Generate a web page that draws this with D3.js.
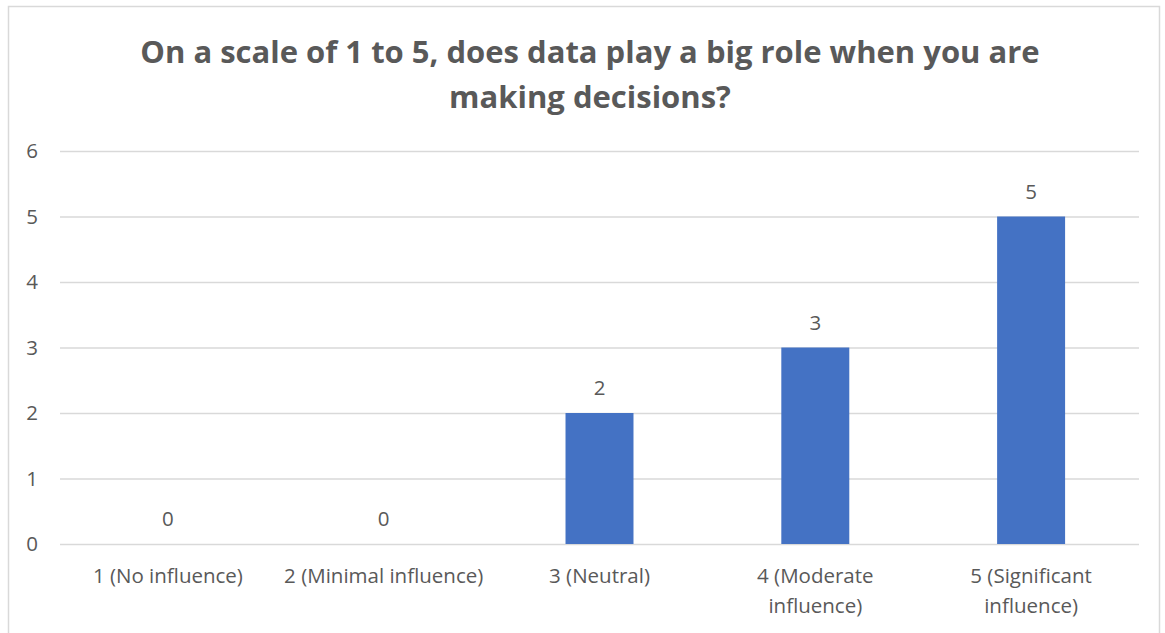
<!DOCTYPE html>
<html>
<head>
<meta charset="utf-8">
<script src="https://cdn.jsdelivr.net/npm/d3@7/dist/d3.min.js"></script>
<style>
  html, body { margin: 0; padding: 0; background: #fff; }
  svg { display: block; }
  text { font-family: "Open Sans", Lato, sans-serif; fill: #595959; }
</style>
</head>
<body>
<script>
const titleLines = ["On a scale of 1 to 5, does data play a big role when you are", "making decisions?"];
const categories = [
  ["1 (No influence)"],
  ["2 (Minimal influence)"],
  ["3 (Neutral)"],
  ["4 (Moderate", "influence)"],
  ["5 (Significant", "influence)"]
];
const values = [0, 0, 2, 3, 5];
const yTicks = [0, 1, 2, 3, 4, 5, 6];

const W = 1165, H = 633;
const margin = { left: 60, right: 26, top: 151, bottom: 89 };
const labelSize = 20.5;

const svg = d3.select("body").append("svg").attr("width", W).attr("height", H);

// chart frame
svg.append("rect")
  .attr("x", 8.5).attr("y", 6.5)
  .attr("width", 1151).attr("height", 640)
  .attr("fill", "#fff").attr("stroke", "#d9d9d9").attr("stroke-width", 1.5);

const x = d3.scaleBand()
  .domain(categories.map((d, i) => i))
  .range([margin.left, W - margin.right])
  .paddingInner(0.685).paddingOuter(0.3425);

const y = d3.scaleLinear().domain([0, 6]).range([H - margin.bottom, margin.top]);

// title
const title = svg.append("text")
  .attr("text-anchor", "middle")
  .attr("font-weight", "bold")
  .attr("font-size", 31);
titleLines.forEach((t, i) => {
  title.append("tspan").attr("x", 590).attr("y", 63 + i * 45).text(t);
});

// gridlines and value axis
const yAxis = d3.axisLeft(y).tickValues(yTicks).tickFormat(d3.format("d"))
  .tickSize(-(W - margin.left - margin.right)).tickPadding(22);
const gy = svg.append("g").attr("transform", `translate(${margin.left},0)`).call(yAxis);
gy.select(".domain").remove();
gy.selectAll(".tick line").attr("stroke", "#d9d9d9").attr("stroke-width", 1.5);
gy.selectAll(".tick text")
  .attr("font-size", labelSize).attr("fill", "#595959")
  .style("font-family", "'Open Sans', Lato, sans-serif");

// bars
svg.selectAll("rect.bar")
  .data(values)
  .join("rect")
  .attr("class", "bar")
  .attr("x", (d, i) => x(i))
  .attr("width", x.bandwidth())
  .attr("y", d => y(d))
  .attr("height", d => y(0) - y(d))
  .attr("fill", "#4472c4");

// value labels
svg.selectAll("text.val")
  .data(values)
  .join("text")
  .attr("class", "val")
  .attr("text-anchor", "middle")
  .attr("font-size", labelSize)
  .attr("x", (d, i) => x(i) + x.bandwidth() / 2)
  .attr("y", d => y(d) - 18)
  .text(d => d);

// category labels
const xAxis = d3.axisBottom(x).tickSize(0).tickFormat(() => "");
const gx = svg.append("g").attr("transform", `translate(0,${y(0)})`).call(xAxis);
gx.select(".domain").remove();
gx.selectAll(".tick").each(function(i) {
  const t = d3.select(this).append("text")
    .attr("text-anchor", "middle")
    .attr("font-size", labelSize)
    .attr("fill", "#595959");
  categories[i].forEach((line, j) => {
    t.append("tspan").attr("x", 0).attr("y", 39 + j * 30).text(line);
  });
});
</script>
</body>
</html>
